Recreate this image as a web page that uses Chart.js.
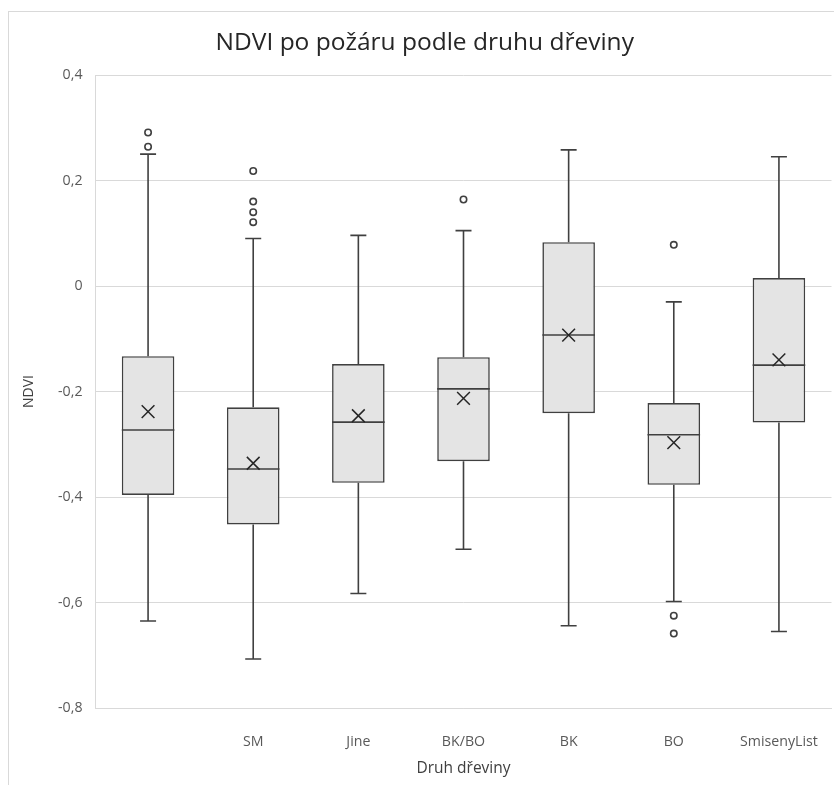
<!DOCTYPE html>
<html><head><meta charset="utf-8">
<script src="https://cdn.jsdelivr.net/npm/chart.js@4"></script>
<style>
html,body{margin:0;padding:0;background:#fff;overflow:hidden}
#wrap{position:relative;width:834px;height:785px;overflow:hidden}
#frame{position:absolute;left:8px;top:11px;width:900px;height:900px;border:1px solid #d9d9d9;box-sizing:border-box;pointer-events:none}
canvas{position:absolute;left:0;top:0}
</style></head><body>
<div id="wrap"><div id="frame"></div><canvas id="c" width="834" height="785"></canvas></div>
<script>
const categories = ['', 'SM', 'Jine', 'BK/BO', 'BK', 'BO', 'SmisenyList'];
const whiskerLow = [-0.635, -0.707, -0.583, -0.499, -0.644, -0.598, -0.655];
const q1 = [-0.396, -0.452, -0.373, -0.332, -0.241, -0.377, -0.259];
const median = [-0.273, -0.347, -0.258, -0.195, -0.093, -0.282, -0.150];
const q3 = [-0.133, -0.230, -0.148, -0.135, 0.083, -0.222, 0.015];
const whiskerHigh = [0.250, 0.090, 0.096, 0.105, 0.258, -0.030, 0.245];
const mean = [-0.238, -0.336, -0.246, -0.213, -0.093, -0.297, -0.140];
const outliers = [[0.291, 0.264], [0.218, 0.160, 0.140, 0.121], [], [0.164], [], [0.078, -0.625, -0.659], []];
const yTicks = [-0.8, -0.6, -0.4, -0.2, 0, 0.2, 0.4];
const yTickLabels = ['-0,8', '-0,6', '-0,4', '-0,2', '0', '0,2', '0,4'];

const FONT = '"Open Sans", Lato, sans-serif';
const LINE = '#404040';

const boxPlugin = {
  id: 'boxWhiskers',
  afterDatasetDraw(chart, args) {
    if (args.index !== 0) return;
    const {ctx} = chart;
    const x = chart.scales.x, y = chart.scales.y;
    const meta = chart.getDatasetMeta(0);
    ctx.save();
    ctx.strokeStyle = LINE;
    ctx.lineWidth = 1.6;
    categories.forEach((c, i) => {
      const bar = meta.data[i];
      const cx = x.getPixelForValue(i);
      const half = bar.width / 2;
      const cap = 8;
      const yHi = y.getPixelForValue(whiskerHigh[i]);
      const yLo = y.getPixelForValue(whiskerLow[i]);
      const yMed = y.getPixelForValue(median[i]);
      ctx.beginPath();
      ctx.moveTo(cx, y.getPixelForValue(q3[i])); ctx.lineTo(cx, yHi);
      ctx.moveTo(cx, y.getPixelForValue(q1[i])); ctx.lineTo(cx, yLo);
      ctx.moveTo(cx - cap, yHi); ctx.lineTo(cx + cap, yHi);
      ctx.moveTo(cx - cap, yLo); ctx.lineTo(cx + cap, yLo);
      ctx.moveTo(cx - half, yMed); ctx.lineTo(cx + half, yMed);
      ctx.stroke();
    });
    ctx.restore();
  }
};

const outlierPoints = [];
outliers.forEach((arr, i) => arr.forEach(v => outlierPoints.push({x: categories[i], y: v})));

new Chart(document.getElementById('c'), {
  type: 'bar',
  data: {
    labels: categories,
    datasets: [
      {
        type: 'bar',
        order: 3,
        data: categories.map((c, i) => [q1[i], q3[i]]),
        backgroundColor: '#e4e4e4',
        borderColor: LINE,
        borderWidth: 1.6,
        borderSkipped: false,
        barPercentage: 0.5,
        categoryPercentage: 1
      },
      {
        type: 'line',
        order: 1,
        data: mean,
        showLine: false,
        pointStyle: 'crossRot',
        pointRadius: 9,
        borderColor: '#262626',
        borderWidth: 1.5,
        backgroundColor: '#262626'
      },
      {
        type: 'line',
        order: 2,
        data: outlierPoints,
        showLine: false,
        pointStyle: 'circle',
        pointRadius: 3.2,
        borderColor: LINE,
        borderWidth: 1.6,
        backgroundColor: '#ffffff'
      }
    ]
  },
  options: {
    responsive: false,
    animation: false,
    layout: {autoPadding: false, padding: {left: 18, right: 2.5, top: 0, bottom: 0}},
    plugins: {
      legend: {display: false},
      tooltip: {enabled: false},
      title: {
        display: true,
        text: 'NDVI po požáru podle druhu dřeviny',
        color: '#262626',
        font: {family: FONT, size: 24.5, weight: 'normal', lineHeight: 1.2},
        padding: {top: 28.5, bottom: 17.1}
      }
    },
    scales: {
      x: {
        grid: {display: true, drawOnChartArea: false, drawTicks: true, tickLength: 23, color: 'rgba(0,0,0,0)'},
        border: {display: true, color: '#d9d9d9'},
        ticks: {color: '#595959', font: {family: FONT, size: 14.2}, padding: 2, maxRotation: 0},
        title: {display: true, text: 'Druh dřeviny', color: '#404040', font: {family: FONT, size: 15.5}, padding: {top: 0, bottom: 7}},
        afterFit: s => { s.height = 77; s.paddingLeft = 0; s.paddingRight = 0; }
      },
      y: {
        min: -0.8,
        max: 0.4,
        afterBuildTicks: s => { s.ticks = yTicks.map(v => ({value: v})); },
        grid: {color: '#d9d9d9', drawTicks: false},
        border: {display: true, color: '#d9d9d9'},
        ticks: {
          color: '#595959',
          font: {family: FONT, size: 14.2},
          padding: 13,
          callback: v => { const k = yTicks.findIndex(t => Math.abs(t - v) < 1e-9); return k >= 0 ? yTickLabels[k] : ''; }
        },
        title: {display: true, text: 'NDVI', color: '#404040', font: {family: FONT, size: 14}, padding: {top: 3, bottom: 0}},
        afterFit: s => { s.width = 77.5; }
      }
    }
  },
  plugins: [boxPlugin]
});
</script>
</body></html>
